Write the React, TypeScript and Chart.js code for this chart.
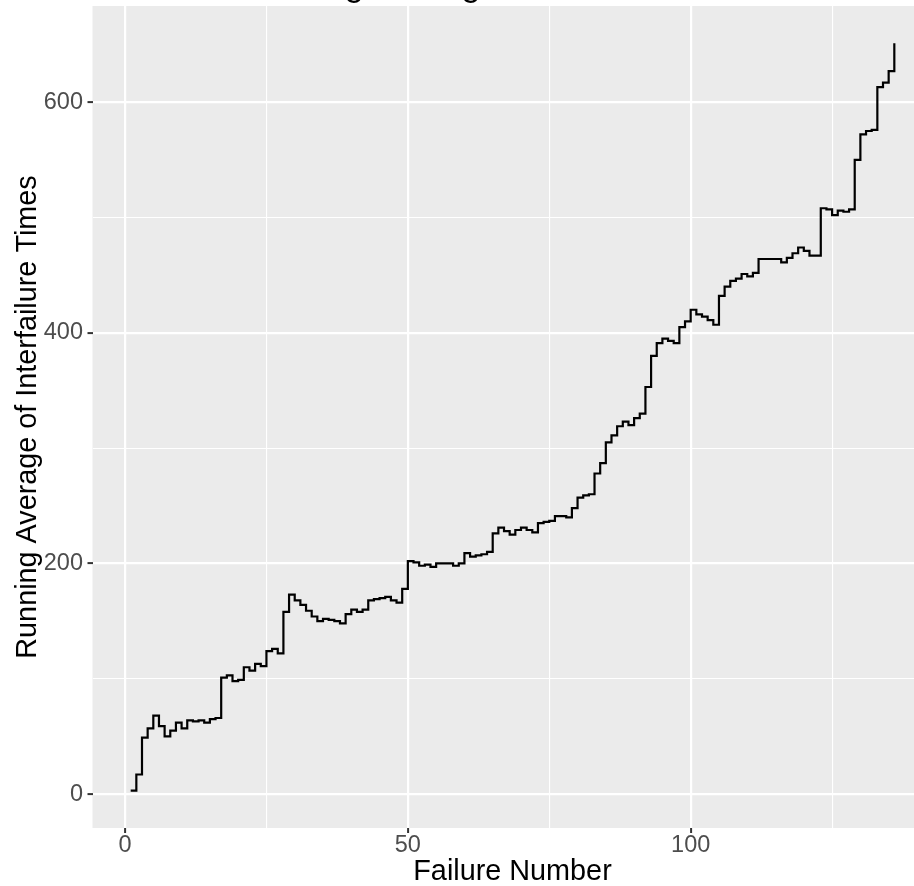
import React, { useEffect, useRef } from "react";
import { Chart, registerables } from "chart.js";

Chart.register(...registerables);

const TITLE = "Running Average of Interfailure Times";
const X_TITLE = "Failure Number";
const Y_TITLE = "Running Average of Interfailure Times";

// running average value at each failure number 1..136
const runningAverage: number[] = [
  3, 17, 49, 57, 68, 59, 50, 55, 62, 57,
  64, 63, 64, 62, 65, 66, 101, 103, 98, 99,
  110, 107, 113, 111, 124, 126, 122, 158, 173, 168,
  164, 159, 154, 150, 152, 151, 150, 148, 156, 160,
  158, 160, 168, 169, 170, 171, 168, 166, 178, 202,
  201, 198, 199, 197, 200, 200, 200, 198, 200, 209,
  206, 207, 208, 210, 226, 231, 228, 225, 229, 231,
  229, 227, 235, 236, 237, 241, 241, 240, 248, 257,
  259, 260, 278, 287, 305, 311, 319, 323, 320, 326,
  330, 353, 380, 391, 395, 393, 391, 405, 410, 420,
  416, 414, 411, 407, 432, 440, 445, 447, 451, 449,
  452, 464, 464, 464, 464, 461, 465, 469, 474, 471,
  467, 467, 508, 507, 502, 506, 505, 507, 550, 572,
  575, 576, 613, 617, 627, 651,
];

const xTicks = [0, 25, 50, 75, 100, 125];
const xMajorTicks = [0, 50, 100];
const yTicks = [0, 100, 200, 300, 400, 500, 600];
const yMajorTicks = [0, 200, 400, 600];

const FONT = '"Liberation Sans", Arial, Helvetica, sans-serif';
const CANVAS_W = 940;
const CANVAS_H = 929;
const CANVAS_TOP = -40;

export default function App() {
  const canvasRef = useRef<HTMLCanvasElement | null>(null);

  useEffect(() => {
    const canvas = canvasRef.current;
    if (!canvas) return;

    const points = runningAverage.map((y, i) => ({ x: i + 1, y }));
    const n = runningAverage.length;
    const xRange = n - 1;
    const yLo = Math.min(...runningAverage);
    const yHi = Math.max(...runningAverage);
    const yRange = yHi - yLo;

    const panelPlugin = {
      id: "panelBg",
      beforeDraw(chart: any) {
        const { ctx, chartArea } = chart;
        ctx.save();
        ctx.fillStyle = "#EBEBEB";
        ctx.fillRect(
          chartArea.left,
          chartArea.top,
          chartArea.right - chartArea.left,
          chartArea.bottom - chartArea.top
        );
        ctx.restore();
      },
    };

    const titlePlugin = {
      id: "cutTitle",
      afterDraw(chart: any) {
        const { ctx, chartArea } = chart;
        ctx.save();
        ctx.font = `34px ${FONT}`;
        ctx.fillStyle = "#000000";
        ctx.textAlign = "center";
        ctx.textBaseline = "alphabetic";
        ctx.fillText(
          TITLE,
          (chartArea.left + chartArea.right) / 2 + 10,
          chartArea.top - 10.5
        );
        ctx.restore();
      },
    };

    const chart = new Chart(canvas, {
      type: "line",
      data: {
        datasets: [
          {
            data: points,
            stepped: "before",
            borderColor: "#000000",
            borderWidth: 2.2,
            pointRadius: 0,
            fill: false,
            borderCapStyle: "butt",
            borderJoinStyle: "miter",
          },
        ],
      },
      options: {
        responsive: false,
        animation: false,
        devicePixelRatio: 1,
        layout: { padding: { top: 46, right: 7.5, bottom: 0, left: 0 } },
        plugins: {
          legend: { display: false },
          tooltip: { enabled: false },
          title: { display: false },
        },
        scales: {
          x: {
            type: "linear",
            min: 1 - 0.05 * xRange,
            max: n + 0.05 * xRange,
            afterBuildTicks: (axis: any) => {
              axis.ticks = xTicks.map((v) => ({ value: v }));
            },
            afterFit: (axis: any) => {
              axis.height = 61;
            },
            border: { display: false },
            grid: {
              color: "#FFFFFF",
              lineWidth: (c: any) =>
                xMajorTicks.includes(c.tick?.value) ? 2.2 : 1.1,
              drawTicks: true,
              tickLength: 5,
              tickWidth: 2,
              tickColor: (c: any) =>
                xMajorTicks.includes(c.tick?.value) ? "#333333" : "rgba(0,0,0,0)",
            },
            ticks: {
              padding: -2,
              color: "#4D4D4D",
              font: { family: FONT, size: 23.5 },
              maxRotation: 0,
              autoSkip: false,
              callback: (v: any) =>
                xMajorTicks.includes(Number(v)) ? String(v) : "",
            },
            title: {
              display: true,
              text: X_TITLE,
              color: "#000000",
              font: { family: FONT, size: 28.8 },
              padding: { top: 0, bottom: 0 },
            },
          },
          y: {
            type: "linear",
            min: yLo - 0.05 * yRange,
            max: yHi + 0.05 * yRange,
            afterBuildTicks: (axis: any) => {
              axis.ticks = yTicks.map((v) => ({ value: v }));
            },
            afterFit: (axis: any) => {
              axis.width = 92.5;
            },
            border: { display: false },
            grid: {
              color: "#FFFFFF",
              lineWidth: (c: any) =>
                yMajorTicks.includes(c.tick?.value) ? 2.2 : 1.1,
              drawTicks: true,
              tickLength: 5,
              tickWidth: 2,
              tickColor: (c: any) =>
                yMajorTicks.includes(c.tick?.value) ? "#333333" : "rgba(0,0,0,0)",
            },
            ticks: {
              padding: 4.5,
              color: "#4D4D4D",
              font: { family: FONT, size: 23.5 },
              autoSkip: false,
              callback: (v: any) =>
                yMajorTicks.includes(Number(v)) ? String(v) : "",
            },
            title: {
              display: true,
              text: Y_TITLE,
              color: "#000000",
              font: { family: FONT, size: 28.8 },
              padding: { top: 11, bottom: 0 },
            },
          },
        },
      } as any,
      plugins: [panelPlugin, titlePlugin],
    });

    return () => {
      chart.destroy();
    };
  }, []);

  return (
    <div
      style={{
        position: "fixed",
        left: 0,
        top: 0,
        width: "100vw",
        height: "100vh",
        overflow: "hidden",
        background: "#FFFFFF",
      }}
    >
      <canvas
        ref={canvasRef}
        width={CANVAS_W}
        height={CANVAS_H}
        style={{
          position: "absolute",
          left: 0,
          top: CANVAS_TOP,
          width: CANVAS_W,
          height: CANVAS_H,
        }}
      />
    </div>
  );
}
